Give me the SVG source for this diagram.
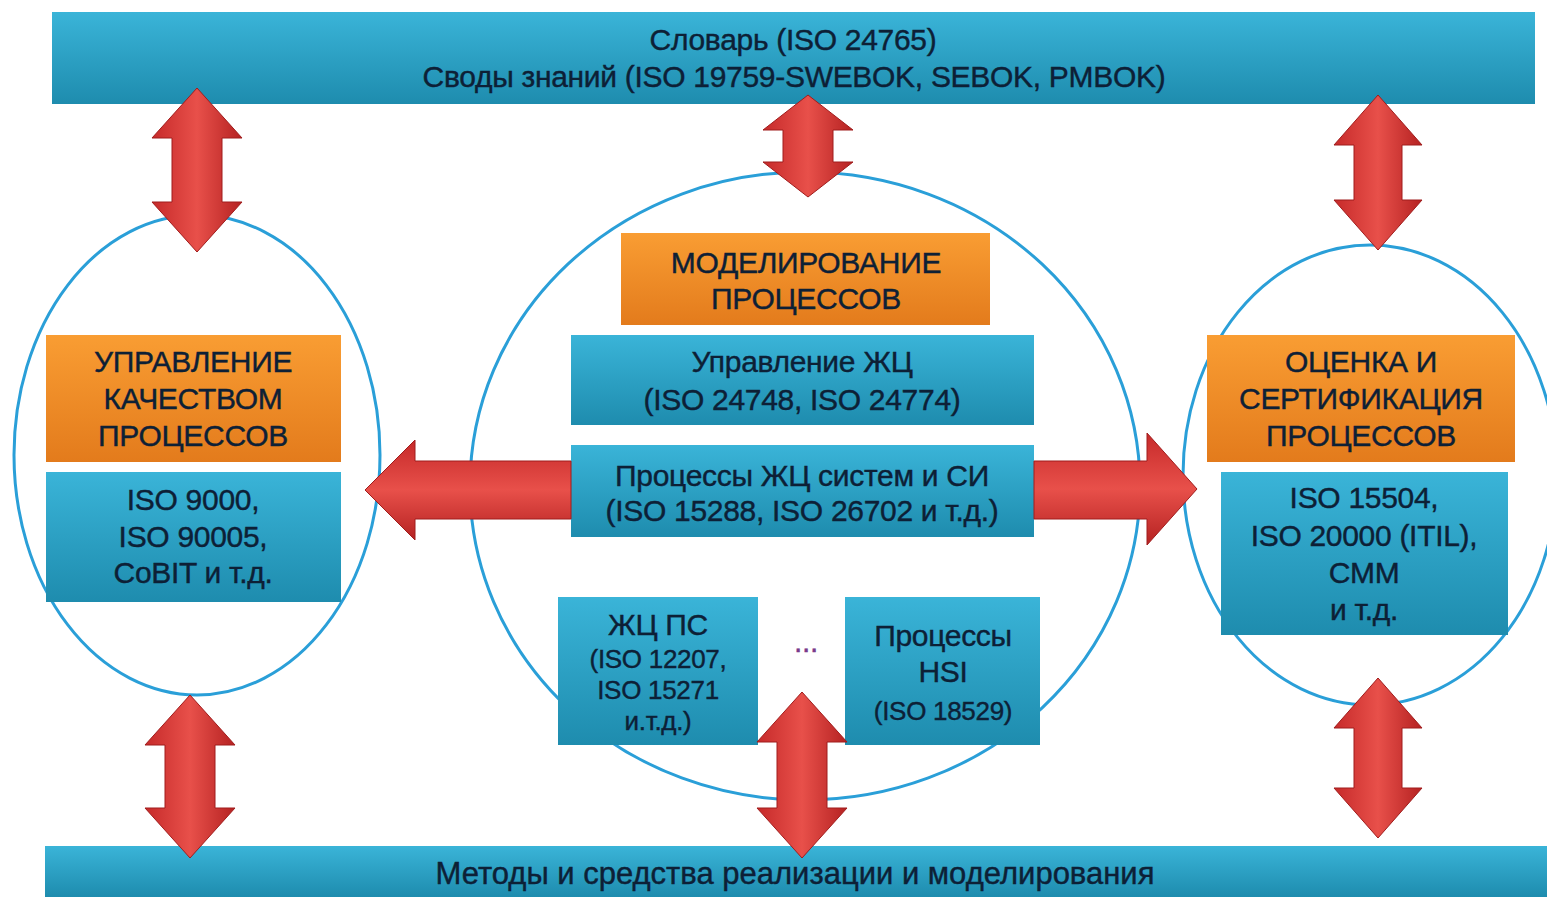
<svg xmlns="http://www.w3.org/2000/svg" width="1547" height="897" viewBox="0 0 1547 897">
<defs>
<linearGradient id="gBlue" x1="0" y1="0" x2="0" y2="1">
<stop offset="0" stop-color="#3ab4d8"/><stop offset="1" stop-color="#1e8cae"/>
</linearGradient>
<linearGradient id="gOrange" x1="0" y1="0" x2="0" y2="1">
<stop offset="0" stop-color="#f99d33"/><stop offset="1" stop-color="#e37b1c"/>
</linearGradient>
<linearGradient id="gRedV" x1="0" y1="0" x2="1" y2="0">
<stop offset="0" stop-color="#c62a2a"/><stop offset="0.5" stop-color="#e8504a"/><stop offset="1" stop-color="#b52222"/>
</linearGradient>
<linearGradient id="gRedH" x1="0" y1="0" x2="0" y2="1">
<stop offset="0" stop-color="#c62a2a"/><stop offset="0.5" stop-color="#e8504a"/><stop offset="1" stop-color="#b52222"/>
</linearGradient>
</defs>
<style>
.bar{fill:url(#gBlue)}
.blue{fill:url(#gBlue)}
.orange{fill:url(#gOrange)}
.ell{fill:none;stroke:#2a9fd8;stroke-width:3}
.av{fill:url(#gRedV);stroke:#a01c1c;stroke-width:1}
.ah{fill:url(#gRedH);stroke:#a01c1c;stroke-width:1}
text{font-family:"Liberation Sans","DejaVu Sans",sans-serif;fill:#0d2036;text-anchor:middle;font-size:30px;letter-spacing:-0.3px;stroke:#0d2036;stroke-width:0.4}
.sm{font-size:26px;letter-spacing:-0.3px}
.big{font-size:31px;letter-spacing:0}
.dots{fill:#7a3a8a;stroke:#7a3a8a;font-size:30px}
</style>
<rect width="1547" height="897" fill="#ffffff"/>

<g id="ellipses">
<ellipse class="ell" cx="197" cy="455" rx="183" ry="240"/>
<ellipse class="ell" cx="805" cy="486" rx="335" ry="314"/>
<ellipse class="ell" cx="1370" cy="475" rx="187" ry="230"/>
</g>

<g id="top-bar">
<rect class="bar" x="52" y="12" width="1483" height="92"/>
<text x="793" y="50">Словарь (ISO 24765)</text>
<text x="794" y="87">Своды знаний (ISO 19759-SWEBOK, SEBOK, PMBOK)</text>
</g>

<g id="bottom-bar">
<rect class="bar" x="45" y="846" width="1502" height="51"/>
<text class="big" x="795" y="884">Методы и средства реализации и моделирования</text>
</g>

<g id="quality">
<rect class="orange" x="46" y="335" width="295" height="127"/>
<text x="193" y="372">УПРАВЛЕНИЕ</text>
<text x="193" y="409">КАЧЕСТВОМ</text>
<text x="193" y="446">ПРОЦЕССОВ</text>
<rect class="blue" x="46" y="472" width="295" height="130"/>
<text x="193" y="510">ISO 9000,</text>
<text x="193" y="547">ISO 90005,</text>
<text x="193" y="583">CoBIT и т.д.</text>
</g>

<g id="modeling">
<rect class="orange" x="621" y="233" width="369" height="92"/>
<text x="806" y="273">МОДЕЛИРОВАНИЕ</text>
<text x="806" y="309">ПРОЦЕССОВ</text>
</g>

<g id="lc-management">
<rect class="blue" x="571" y="335" width="463" height="90"/>
<text x="802" y="372">Управление ЖЦ</text>
<text x="802" y="410">(ISO 24748,  ISO 24774)</text>
</g>

<g id="lc-processes">
<rect class="blue" x="571" y="445" width="463" height="92"/>
<text x="802" y="486">Процессы ЖЦ систем и СИ</text>
<text x="802" y="521">(ISO 15288,  ISO 26702 и т.д.)</text>
</g>

<g id="sw-lc">
<rect class="blue" x="558" y="597" width="200" height="148"/>
<text x="658" y="635">ЖЦ ПС</text>
<text class="sm" x="658" y="668">(ISO 12207,</text>
<text class="sm" x="658" y="699">ISO 15271</text>
<text class="sm" x="658" y="730">и.т.д.)</text>
</g>

<text class="dots" x="806" y="652">...</text>

<g id="hsi">
<rect class="blue" x="845" y="597" width="195" height="148"/>
<text x="943" y="646">Процессы</text>
<text x="943" y="682">HSI</text>
<text class="sm" x="943" y="720">(ISO 18529)</text>
</g>

<g id="assessment">
<rect class="orange" x="1207" y="335" width="308" height="127"/>
<text x="1361" y="372">ОЦЕНКА И</text>
<text x="1361" y="409">СЕРТИФИКАЦИЯ</text>
<text x="1361" y="446">ПРОЦЕССОВ</text>
<rect class="blue" x="1221" y="472" width="287" height="163"/>
<text x="1364" y="508">ISO 15504,</text>
<text x="1364" y="546">ISO 20000 (ITIL),</text>
<text x="1364" y="583">CMM</text>
<text x="1364" y="620">и т.д.</text>
</g>

<g id="connectors">
<path class="av" d="M197 88 L242 138 L222 138 L222 202 L242 202 L197 252 L152 202 L172 202 L172 138 L152 138 Z"/>
<path class="av" d="M808 95 L853 130 L833 130 L833 162 L853 162 L808 197 L763 162 L783 162 L783 130 L763 130 Z"/>
<path class="av" d="M1378 95 L1422 145 L1402 145 L1402 200 L1422 200 L1378 250 L1334 200 L1354 200 L1354 145 L1334 145 Z"/>
<path class="av" d="M190 695 L235 745 L215 745 L215 808 L235 808 L190 858 L145 808 L165 808 L165 745 L145 745 Z"/>
<path class="av" d="M802 692 L847 742 L827 742 L827 808 L847 808 L802 858 L757 808 L777 808 L777 742 L757 742 Z"/>
<path class="av" d="M1378 678 L1422 728 L1402 728 L1402 788 L1422 788 L1378 838 L1334 788 L1354 788 L1354 728 L1334 728 Z"/>
<path class="ah" d="M365 490 L415 440 L415 461 L571 461 L571 519 L415 519 L415 540 Z"/>
<path class="ah" d="M1197 489 L1147 433 L1147 461 L1034 461 L1034 519 L1147 519 L1147 545 Z"/>
</g>
</svg>
